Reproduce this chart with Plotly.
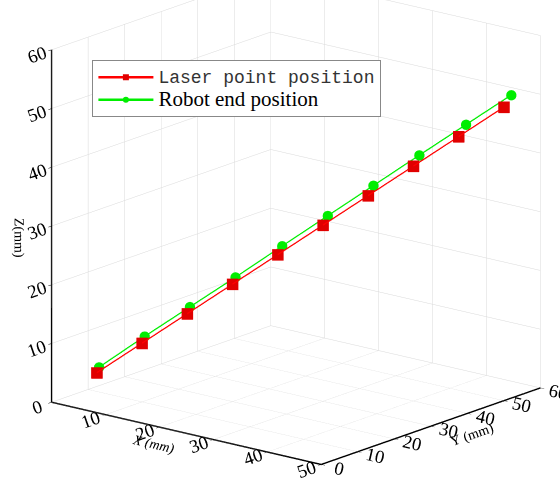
import plotly.graph_objects as go

laser_x = [5, 10, 15, 20, 25, 30, 35, 40, 45, 50]
laser_y = [5, 10, 15, 20, 25, 30, 35, 40, 45, 50]
laser_z = [5, 10, 15, 20, 25, 30, 35, 40, 45, 50]

robot_x = [5, 10, 15, 20, 25, 30, 35, 40, 45, 50]
robot_y = [5.6, 10.7, 15.7, 20.8, 26.2, 31.3, 36.4, 41.6, 47.0, 52.0]
robot_z = [5.8, 11.0, 16.0, 21.0, 26.2, 31.3, 36.4, 41.5, 46.6, 51.6]

x_ticks = [10, 20, 30, 40, 50]
y_ticks = [0, 10, 20, 30, 40, 50, 60]
z_ticks = [0, 10, 20, 30, 40, 50, 60]

fig = go.Figure()
fig.add_trace(go.Scatter3d(
    x=laser_x, y=laser_y, z=laser_z, mode="lines+markers",
    name='<span style="font-family:Liberation Mono;font-size:18px;color:#333333">Laser point position</span>',
    line=dict(color="#ff0000", width=2.5),
    marker=dict(symbol="square", size=6, color="#e00000"),
))
fig.add_trace(go.Scatter3d(
    x=robot_x, y=robot_y, z=robot_z, mode="lines+markers",
    name='<span style="font-size:21px">Robot end position</span>',
    line=dict(color="#00ee00", width=2.5),
    marker=dict(symbol="circle", size=6, color="#00ee00"),
))

axis_common = dict(
    showbackground=False,
    gridcolor="#d9d9d9",
    gridwidth=1,
    showline=True,
    linecolor="black",
    linewidth=3,
    ticks="outside",
    tickcolor="black",
    ticklen=5,
    zeroline=False,
    tickfont=dict(family="Liberation Serif", size=15, color="black"),
    showspikes=False,
)

center = dict(x=-0.05, y=-0.04, z=-0.13)
view_dir = (0.605, -0.744, 0.284)
eye_dist = 2.0

fig.update_layout(
    width=560, height=500,
    margin=dict(l=0, r=0, t=0, b=0),
    paper_bgcolor="white",
    font=dict(family="Liberation Serif", color="black"),
    showlegend=True,
    legend=dict(
        x=0.165, y=0.88, xanchor="left", yanchor="top",
        bgcolor="white", bordercolor="#888888", borderwidth=1,
        font=dict(family="Liberation Serif", size=15, color="black"),
        tracegroupgap=0, itemwidth=55,
    ),
    scene=dict(
        domain=dict(x=[0, 1], y=[0, 1]),
        aspectmode="manual",
        aspectratio=dict(x=1.39, y=1.39, z=1.47),
        xaxis=dict(axis_common, range=[0, 50], tickvals=x_ticks,
                   title=dict(text="<i>X (mm)</i>", font=dict(family="Liberation Serif", size=14))),
        yaxis=dict(axis_common, range=[0, 60], tickvals=y_ticks,
                   title=dict(text="Y (mm)", font=dict(family="Liberation Serif", size=14))),
        zaxis=dict(axis_common, range=[0, 60], tickvals=z_ticks,
                   title=dict(text="Z(mm)", font=dict(family="Liberation Serif", size=14))),
        camera=dict(
            eye=dict(x=center["x"] + eye_dist * view_dir[0],
                     y=center["y"] + eye_dist * view_dir[1],
                     z=center["z"] + eye_dist * view_dir[2]),
            center=center,
            up=dict(x=0, y=0, z=1),
            projection=dict(type="orthographic"),
        ),
    ),
)

fig.write_html("out.html", config={"displayModeBar": False})
